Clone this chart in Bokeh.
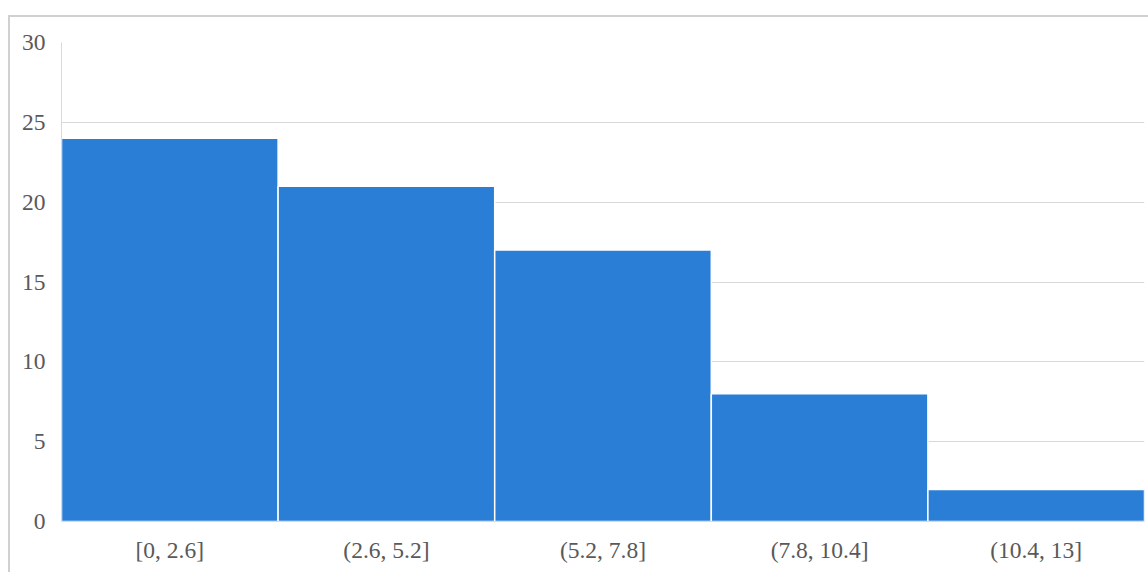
from bokeh.plotting import figure
from bokeh.models import Range1d, FixedTicker
from bokeh.embed import file_html
from bokeh.resources import INLINE

labels = ["[0, 2.6]", "(2.6, 5.2]", "(5.2, 7.8]", "(7.8, 10.4]", "(10.4, 13]"]
counts = [24, 21, 17, 8, 2]
y_ticks = [0, 5, 10, 15, 20, 25, 30]

p = figure(x_range=labels, y_range=Range1d(0, 30), width=1140, height=557,
           output_backend="svg", toolbar_location=None,
           min_border_left=51, min_border_right=6, min_border_top=25, min_border_bottom=53)
p.styles = {"margin-top": "15px", "margin-left": "8px",
            "border-top": "2px solid #d0d0d0", "border-left": "2px solid #d0d0d0"}
p.x_range.range_padding = 0

p.vbar(x=labels, top=counts, width=1.0, fill_color="#2a7ed6",
       line_color="white", line_width=1.5)

p.outline_line_color = None
p.xgrid.grid_line_color = None
p.ygrid.grid_line_color = "#d9d9d9"
p.ygrid.grid_line_width = 1
p.yaxis.ticker = FixedTicker(ticks=y_ticks)

for ax in (p.xaxis, p.yaxis):
    ax.axis_line_color = "#d9d9d9"
    ax.major_tick_line_color = None
    ax.minor_tick_line_color = None
    ax.major_label_text_font = "Liberation Serif"
    ax.major_label_text_font_size = "23.5px"
    ax.major_label_text_color = "#595959"
p.yaxis.major_label_standoff = 10
p.xaxis.major_label_standoff = 9

open("out.html", "w").write(file_html(p, INLINE))
